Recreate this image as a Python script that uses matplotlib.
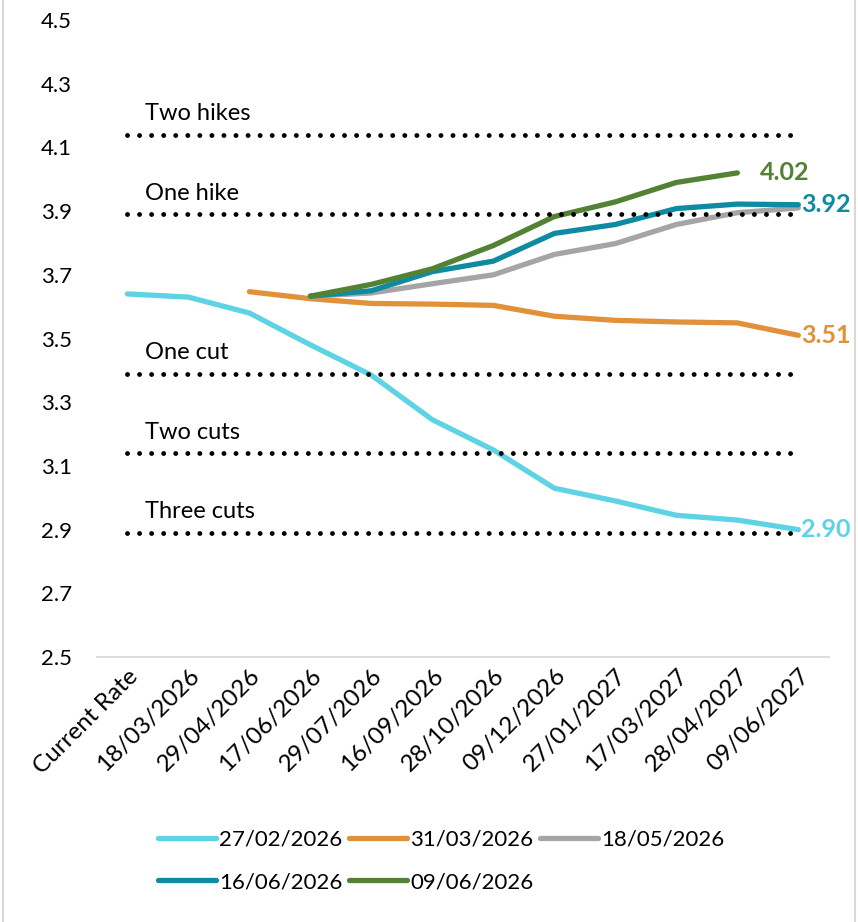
import numpy as np
import matplotlib
matplotlib.use("Agg")
import matplotlib.pyplot as plt
from matplotlib.lines import Line2D
import matplotlib.transforms as mtransforms

plt.rcParams['font.family'] = ['Lato', 'DejaVu Sans']

# data
categories = ["Current Rate", "18/03/2026", "29/04/2026", "17/06/2026", "29/07/2026",
              "16/09/2026", "28/10/2026", "09/12/2026", "27/01/2027", "17/03/2027",
              "28/04/2027", "09/06/2027"]
nan = np.nan
s_2702 = [3.64, 3.63, 3.58, 3.48, 3.385, 3.245, 3.15, 3.03, 2.99, 2.945, 2.93, 2.90]
s_3103 = [nan, nan, 3.647, 3.625, 3.61, 3.608, 3.604, 3.57, 3.557, 3.552, 3.549, 3.51]
s_1805 = [nan, nan, nan, 3.633, 3.643, 3.672, 3.70, 3.764, 3.798, 3.858, 3.895, 3.91]
s_1606 = [nan, nan, nan, 3.633, 3.65, 3.71, 3.743, 3.83, 3.858, 3.908, 3.922, 3.92]
s_0906 = [nan, nan, nan, 3.633, 3.67, 3.719, 3.792, 3.883, 3.929, 3.99, 4.02, nan]

series_names = ["27/02/2026", "31/03/2026", "18/05/2026", "16/06/2026", "09/06/2026"]
series_vals = [s_2702, s_3103, s_1805, s_1606, s_0906]
colors = ["#5ED3E3", "#E0913A", "#A5A5A5", "#0E8BA1", "#548235"]
end_labels = ["2.90", "3.51", None, "3.92", "4.02"]
label_gap = [2, 2, 0, 2, 16]

ref_names = ["Two hikes", "One hike", "One cut", "Two cuts", "Three cuts"]
ref_levels = [4.14, 3.89, 3.39, 3.14, 2.89]

fig = plt.figure(figsize=(8.58, 9.22), dpi=100)
ax = fig.add_axes([0.113, 0.2874, 0.853, 0.6909])

x = np.arange(len(categories))
handles = []
for name, vals, c in zip(series_names, series_vals, colors):
    h, = ax.plot(x, vals, color=c, lw=3.8, solid_capstyle='round', zorder=2, label=name)
    handles.append(h)

# end-of-line value labels
for vals, c, lab, gap in zip(series_vals, colors, end_labels, label_gap):
    if lab is None:
        continue
    arr = np.array(vals, dtype=float)
    i = np.where(~np.isnan(arr))[0][-1]
    ax.annotate(lab, (x[i], arr[i]), xytext=(gap, 0), textcoords='offset points',
                color=c, fontsize=18, fontweight='bold', va='center', ha='left',
                annotation_clip=False)

# reference lines
for name, lvl in zip(ref_names, ref_levels):
    ax.plot([0, len(categories) - 1.1], [lvl, lvl], color='black', lw=3.5,
            linestyle=(0, (0.01, 2.47)), dash_capstyle='round', zorder=3)
    ax.text(0.28, lvl + 0.045, name, fontsize=17, va='baseline', ha='left')

ax.set_xlim(-0.5, len(categories) - 0.5)
ax.set_ylim(2.5, 4.5)
ax.set_yticks(np.arange(2.5, 4.51, 0.2))
ax.set_yticklabels([f"{v:.1f}" for v in np.arange(2.5, 4.51, 0.2)], fontsize=16)
ax.set_xticks(x)
ax.set_xticklabels(categories, fontsize=17.5, rotation=45, ha='right',
                   rotation_mode='anchor')
offset = mtransforms.ScaledTranslation(12 / 100, 0, fig.dpi_scale_trans)
for lbl in ax.get_xticklabels():
    lbl.set_transform(lbl.get_transform() + offset)
ax.tick_params(axis='both', length=0)
ax.tick_params(axis='y', pad=18)
ax.tick_params(axis='x', pad=6)

for sp in ['top', 'right', 'left']:
    ax.spines[sp].set_visible(False)
ax.spines['bottom'].set_color('#D9D9D9')
ax.spines['bottom'].set_linewidth(1.3)

# legend, ordered row by row
order = [0, 3, 1, 4, 2]
fig.legend([handles[i] for i in order], [series_names[i] for i in order],
           loc='upper left', bbox_to_anchor=(0.171, 0.112), ncol=3, frameon=False,
           fontsize=16, handlelength=2.6, handletextpad=0.15, columnspacing=0.3,
           labelspacing=1.0, borderpad=0)

# figure border on the sides
for xf in [3 / 858, 855 / 858]:
    fig.add_artist(Line2D([xf, xf], [0, 1], transform=fig.transFigure,
                          color='#D9D9D9', lw=1.5))

fig.savefig("out.png", dpi=100)
